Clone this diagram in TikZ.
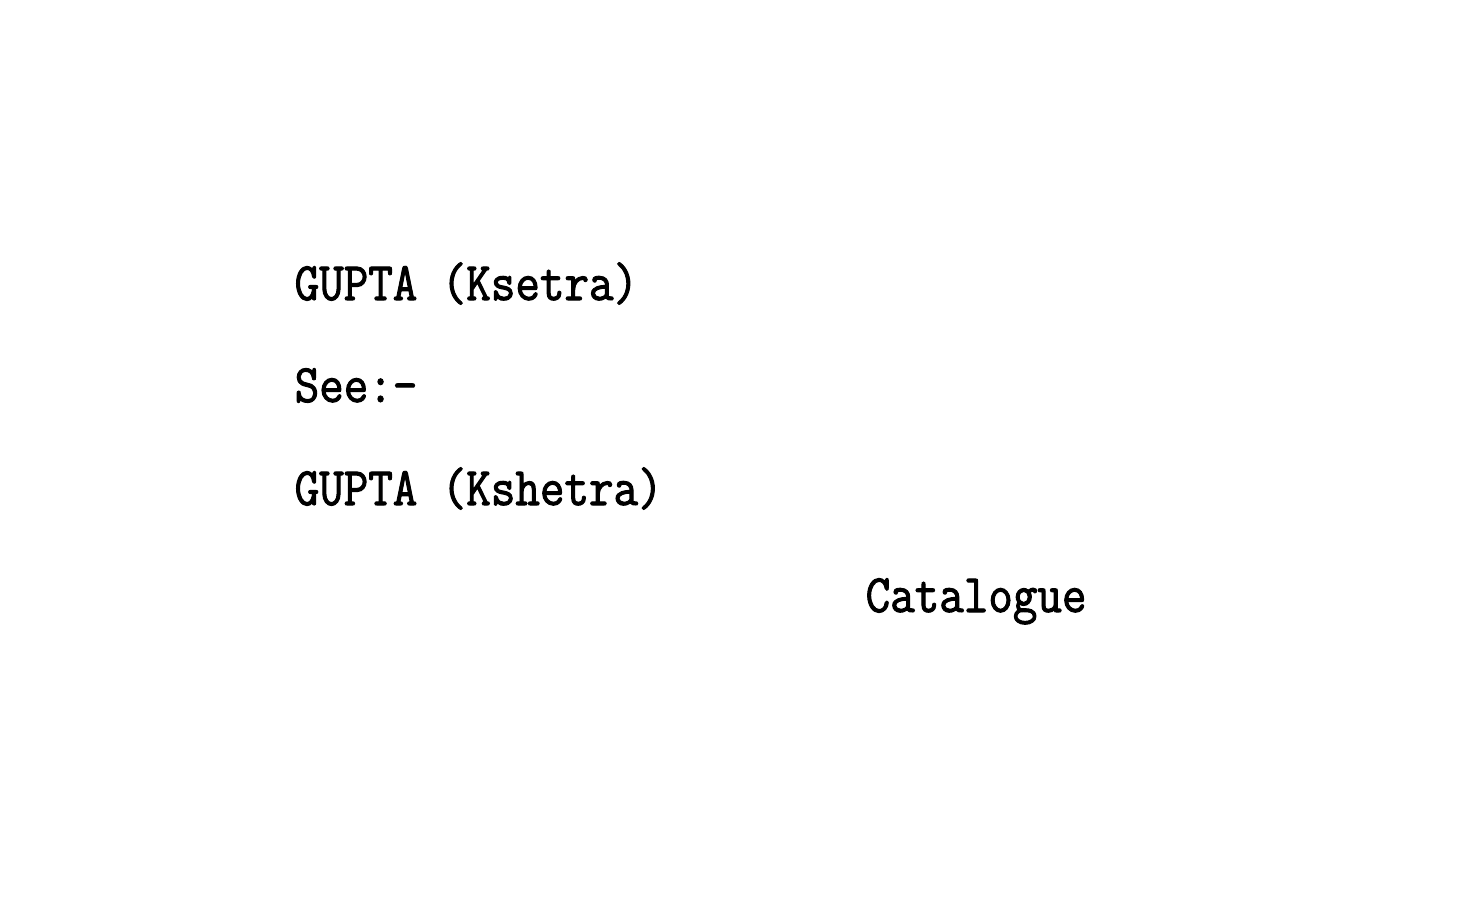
\documentclass[tikz,border=0pt]{standalone}
\usepackage{fontspec}
\setmonofont{Latin Modern Mono}[FakeStretch=0.88,FakeBold=1.8]
\usetikzlibrary{positioning}

\begin{document}
\begin{tikzpicture}[every node/.style={font=\fontsize{15.4}{18}\ttfamily, inner sep=0pt, anchor=base west}]
                                \useasboundingbox (0,0) rectangle (14.72,-9.11);

                                \node (ksetra) at (2.94,-3.00) {GUPTA (Ksetra)};
                                \node (see) at (2.94,-4.02) {See:-};
                                \node (kshetra) at (2.94,-5.05) {GUPTA (Kshetra)};
                                \node (catalogue) at (8.65,-6.12) {Catalogue};
                            \end{tikzpicture}
\end{document}
